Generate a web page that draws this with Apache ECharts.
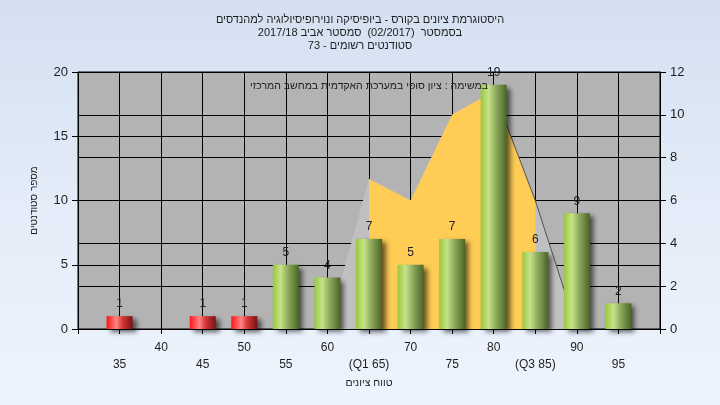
<!DOCTYPE html>
<html>
<head>
<meta charset="utf-8">
<script src="https://cdn.jsdelivr.net/npm/echarts@6/dist/echarts.min.js"></script>
<style>
  html, body { margin: 0; padding: 0; }
  #chart { width: 720px; height: 405px; background: linear-gradient(180deg, #d4e0f1 0%, #e3ecf8 50%, #eef4fd 100%); }
</style>
</head>
<body>
<div id="chart"></div>
<script>
// ---- data ----
const categories = [35, 40, 45, 50, 55, 60, 65, 70, 75, 80, 85, 90, 95];
const counts     = [1, 0, 1, 1, 5, 4, 7, 5, 7, 19, 6, 9, 2];
const tickLabels = ['35', '40', '45', '50', '55', '60', '(Q1 65)', '70', '75', '80', '(Q3 85)', '90', '95'];
const passMark = 55;
// distribution polygon (right axis)
const distX = [60, 65, 70, 75, 80, 85, 90];
const distY = [0, 7, 6, 10, 11.1, 6, 0];
// inter-quartile part (Q1..Q3)
const iqrX = [65, 70, 75, 80, 85];
const iqrY = [7, 6, 10, 11.1, 6];
// descending edge line
const edgeX = [80, 85, 90];
const edgeY = [11.1, 6, 0];

const titleLines = [
  'היסטוגרמת ציונים בקורס - ביופיסיקה ונוירופיסיולוגיה למהנדסים',
  'בסמסטר  (02/2017)  סמסטר אביב 2017/18',
  'סטודנטים רשומים - 73'
];
const noteText = 'במשימה : ציון סופי במערכת האקדמית במחשב המרכזי';
const xName = 'טווח ציונים';
const yName = 'מספר סטודנטים';

const FONT = '"Liberation Sans", Arial, "DejaVu Sans", sans-serif';

const redGrad = new echarts.graphic.LinearGradient(0, 0, 1, 0, [
  { offset: 0, color: '#ff1414' },
  { offset: 0.38, color: '#ff8585' },
  { offset: 0.6, color: '#d83838' },
  { offset: 1, color: '#7a1212' }
]);
const greenGrad = new echarts.graphic.LinearGradient(0, 0, 1, 0, [
  { offset: 0, color: '#98c83a' },
  { offset: 0.3, color: '#c6e28a' },
  { offset: 0.6, color: '#8aa85a' },
  { offset: 1, color: '#4a6426' }
]);

const pair = (xs, ys) => xs.map((x, i) => [x, ys[i]]);

const chart = echarts.init(document.getElementById('chart'), null, { renderer: 'canvas' });
chart.setOption({
  backgroundColor: 'transparent',
  animation: false,
  textStyle: { fontFamily: FONT },
  title: {
    text: titleLines.join('\n'),
    left: 'center',
    top: 8,
    textStyle: { fontSize: 11, fontWeight: 'normal', color: '#1e1e1e', lineHeight: 13, fontFamily: FONT }
  },
  grid: {
    left: 78, right: 60, top: 72, bottom: 76,
    show: true, backgroundColor: '#b3b3b3', borderColor: '#000', borderWidth: 1
  },
  xAxis: {
    type: 'value', min: 30, max: 100, interval: 5,
    name: xName, nameLocation: 'middle', nameGap: 46,
    nameTextStyle: { fontSize: 10.5, color: '#1e1e1e', fontFamily: FONT },
    axisLine: { show: true, lineStyle: { color: '#000', width: 1 } },
    axisTick: { show: true, length: 5, lineStyle: { color: '#000' } },
    splitLine: { show: true, lineStyle: { color: '#000', width: 1 } },
    axisLabel: {
      margin: 10, fontSize: 12, color: '#1e1e1e', lineHeight: 17, fontFamily: FONT,
      formatter: function (v) {
        const i = categories.indexOf(v);
        if (i < 0) return '';
        return (i % 2 === 0 ? '\n' : '') + tickLabels[i];
      }
    }
  },
  yAxis: [
    {
      type: 'value', min: 0, max: 20, interval: 5, position: 'left',
      name: yName, nameLocation: 'middle', nameGap: 39, nameRotate: 90,
      nameTextStyle: { fontSize: 10, color: '#1e1e1e', fontFamily: FONT },
      axisLine: { show: true, lineStyle: { color: '#000' } },
      axisTick: { show: true, length: 6, lineStyle: { color: '#000' } },
      splitLine: { show: true, lineStyle: { color: '#000', width: 1 } },
      axisLabel: { margin: 10, fontSize: 13, color: '#1e1e1e', fontFamily: FONT }
    },
    {
      type: 'value', min: 0, max: 12, interval: 2, position: 'right',
      axisLine: { show: true, lineStyle: { color: '#000' } },
      axisTick: { show: true, length: 6, lineStyle: { color: '#000' } },
      splitLine: { show: true, lineStyle: { color: '#000', width: 1 } },
      axisLabel: { margin: 10, fontSize: 13, color: '#1e1e1e', fontFamily: FONT }
    }
  ],
  graphic: [{
    type: 'text', x: 369, y: 86, z: 100,
    style: { text: noteText, align: 'center', verticalAlign: 'middle', font: '10.5px ' + FONT, fill: '#1e1e1e' }
  }],
  series: [
    {
      type: 'line', yAxisIndex: 1, data: pair(distX, distY), showSymbol: false, symbol: 'none',
      lineStyle: { width: 0 }, areaStyle: { color: '#c0c0c0', opacity: 1 }, z: 2, silent: true
    },
    {
      type: 'line', yAxisIndex: 1, data: pair(iqrX, iqrY), showSymbol: false, symbol: 'none',
      lineStyle: { width: 0 }, areaStyle: { color: '#ffcc55', opacity: 1 }, z: 3, silent: true
    },
    {
      type: 'line', yAxisIndex: 1, data: pair(edgeX, edgeY), showSymbol: false, symbol: 'none',
      lineStyle: { width: 1, color: '#505050' }, z: 4, silent: true
    },
    {
      type: 'bar', yAxisIndex: 0, barWidth: 26, z: 5,
      data: categories.map((c, i) => ({
        value: [c, counts[i]],
        itemStyle: {
          color: c < passMark ? redGrad : greenGrad,
          shadowColor: 'rgba(0,0,0,0.6)', shadowBlur: 5, shadowOffsetX: 4, shadowOffsetY: 3
        }
      })),
      label: {
        show: true, position: 'top', distance: 6, fontSize: 12, color: '#1e1e2a', fontFamily: FONT,
        formatter: p => (p.value[1] ? String(p.value[1]) : '')
      }
    }
  ]
});
</script>
</body>
</html>
